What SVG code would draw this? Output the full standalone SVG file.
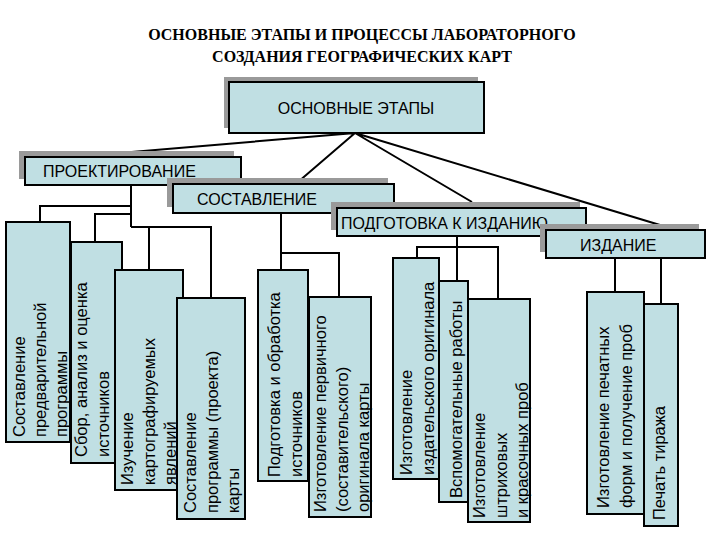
<svg xmlns="http://www.w3.org/2000/svg" width="720" height="540" viewBox="0 0 720 540">
<style>
.t{font-family:"Liberation Serif",serif;font-weight:bold;font-size:16px;text-anchor:middle}
.b{fill:#c0dfe3;stroke:#000;stroke-width:2}
.s{fill:#9a9a9a}
.h{font-family:"Liberation Sans",Arial,sans-serif;font-size:16px}
.v{font-family:"Liberation Sans",Arial,sans-serif;font-size:16.5px}
.c{fill:none;stroke:#000;stroke-width:2}
</style>
<rect width="720" height="540" fill="#fff"/>
<text class="t" x="362" y="40">ОСНОВНЫЕ ЭТАПЫ И ПРОЦЕССЫ ЛАБОРАТОРНОГО</text>
<text class="t" x="362" y="62">СОЗДАНИЯ ГЕОГРАФИЧЕСКИХ КАРТ</text>
<g id="connectors" class="c">
<path d="M355 133L96 155M355 133L298 182M355 133L472 202M355 133L660 225"/>
<path d="M131 185V227M131 206H40V222M131 214H95V242M131 227H211V298M149 227V270"/>
<path d="M281 213V270M281 253H339V297"/>
<path d="M457 236V281M417 258V247H498V299"/>
<path d="M615 258V292M661 258V304"/>
</g>
<g id="n-main"><rect class="s" x="224" y="77" width="254" height="51"/><rect class="b" x="229" y="82" width="255" height="51"/><text class="h" x="356" y="114" text-anchor="middle">ОСНОВНЫЕ ЭТАПЫ</text></g>
<g id="n-proj"><rect class="s" x="19" y="151" width="215" height="28"/><rect class="b" x="25" y="157" width="216" height="28"/><text class="h" x="43" y="177">ПРОЕКТИРОВАНИЕ</text></g>
<g id="n-sost"><rect class="s" x="167" y="178" width="221" height="29"/><rect class="b" x="173" y="184" width="221" height="29"/><text class="h" x="197" y="205">СОСТАВЛЕНИЕ</text></g>
<g id="n-podg"><rect class="s" x="331" y="202" width="249" height="28"/><rect class="b" x="337" y="208" width="249" height="28"/><text class="h" x="341" y="229">ПОДГОТОВКА К ИЗДАНИЮ</text></g>
<g id="n-izd"><rect class="s" x="540" y="224" width="159" height="28"/><rect class="b" x="546" y="230" width="159" height="28"/><text class="h" x="580" y="251">ИЗДАНИЕ</text></g>
<g id="b1"><rect class="b" x="6" y="222" width="64" height="220"/>
<text class="v" transform="translate(25,437) rotate(-90)">Составление</text>
<text class="v" transform="translate(46,437) rotate(-90)">предварительной</text>
<text class="v" transform="translate(67,437) rotate(-90)">программы</text></g>
<g id="b2"><rect class="b" x="71" y="242" width="51" height="221"/>
<text class="v" transform="translate(87,457) rotate(-90)">Сбор, анализ и оценка</text>
<text class="v" transform="translate(109,457) rotate(-90)">источников</text></g>
<g id="b3"><rect class="b" x="115" y="270" width="68" height="220"/>
<text class="v" transform="translate(133,485) rotate(-90)">Изучение</text>
<text class="v" transform="translate(155,485) rotate(-90)">картографируемых</text>
<text class="v" transform="translate(176,485) rotate(-90)">явлений</text></g>
<g id="b4"><rect class="b" x="177" y="298" width="68" height="221"/>
<text class="v" transform="translate(196,513) rotate(-90)">Составление</text>
<text class="v" transform="translate(218,513) rotate(-90)">программы (проекта)</text>
<text class="v" transform="translate(239,513) rotate(-90)">карты</text></g>
<g id="b5"><rect class="b" x="258" y="270" width="50" height="211"/>
<text class="v" transform="translate(280,477) rotate(-90)">Подготовка и обработка</text>
<text class="v" transform="translate(302,477) rotate(-90)">источников</text></g>
<g id="b6"><rect class="b" x="309" y="297" width="62" height="220"/>
<text class="v" transform="translate(326,512) rotate(-90)">Изготовление первичного</text>
<text class="v" transform="translate(348,512) rotate(-90)">(составительского)</text>
<text class="v" transform="translate(369,512) rotate(-90)">оригинала карты</text></g>
<g id="b7"><rect class="b" x="393" y="258" width="46" height="221"/>
<text class="v" transform="translate(412,475) rotate(-90)">Изготовление</text>
<text class="v" transform="translate(434,475) rotate(-90)">издательского оригинала</text></g>
<g id="b8"><rect class="b" x="439" y="281" width="29" height="221"/>
<text class="v" transform="translate(462,498) rotate(-90)">Вспомогательные работы</text></g>
<g id="b9"><rect class="b" x="468" y="299" width="62" height="223"/>
<text class="v" transform="translate(485,518) rotate(-90)">Изготовление</text>
<text class="v" transform="translate(507,518) rotate(-90)">штриховых</text>
<text class="v" transform="translate(528,518) rotate(-90)">и красочных проб</text></g>
<g id="b10"><rect class="b" x="587" y="292" width="57" height="222"/>
<text class="v" transform="translate(609,508) rotate(-90)">Изготовление печатных</text>
<text class="v" transform="translate(632,508) rotate(-90)">форм и получение проб</text></g>
<g id="b11"><rect class="b" x="644" y="304" width="34" height="222"/>
<text class="v" transform="translate(665,520) rotate(-90)">Печать тиража</text></g>
</svg>
